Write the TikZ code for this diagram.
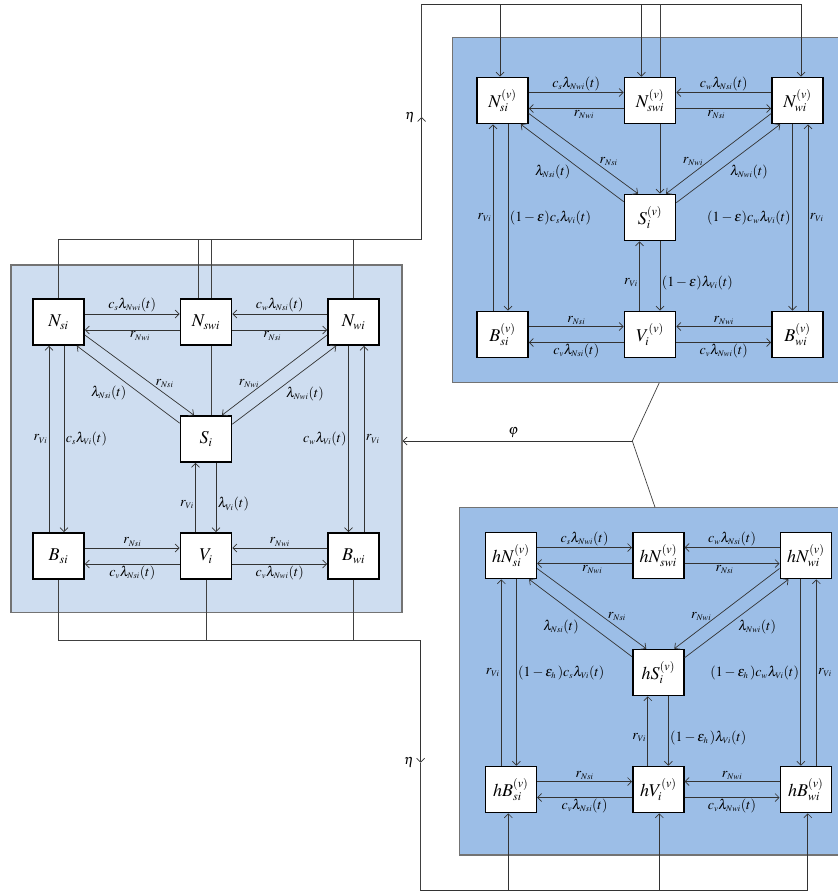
\documentclass[tikz,border=0pt]{standalone}
\usepackage{amsmath}
\usepackage{amssymb}
\usepackage{mathptmx}
\usetikzlibrary{arrows.meta}

\DeclareMathSizes{14}{14}{8.5}{6}
\DeclareMathSizes{18}{18}{12}{9}

\definecolor{paleblue}{RGB}{206,221,240}
\definecolor{midblue}{RGB}{156,190,231}

\tikzset{
  box/.style={draw=black, line width=1.6pt, fill=white, minimum width=51pt,
    minimum height=46pt, inner sep=0pt, font=\fontsize{18}{20}\selectfont},
  lbl/.style={font=\fontsize{14}{16}\selectfont, inner sep=1.5pt},
  flow/.style={->, line width=0.7pt, draw=black!80},
  link/.style={line width=0.7pt, draw=black!75},
  panel/.style={draw=black!55, line width=1.2pt},
}

% one compartment block: #1 name prefix, #2 leading h, #3 superscript, #4 factor
\newcommand{\drawpanel}[4]{%
  \node[box] (#1Nsi) at (0,0) {$#2N#3_{si}$};
  \node[box] (#1Nswi) at (147.5,0) {$#2N#3_{swi}$};
  \node[box] (#1Nwi) at (295,0) {$#2N#3_{wi}$};
  \node[box] (#1S) at (147.5,117) {$#2S#3_{i}$};
  \node[box] (#1Bsi) at (0,234) {$#2B#3_{si}$};
  \node[box] (#1V) at (147.5,234) {$#2V#3_{i}$};
  \node[box] (#1Bwi) at (295,234) {$#2B#3_{wi}$};

  \draw[flow] ([yshift=8pt]#1Nsi.east) -- ([yshift=8pt]#1Nswi.west) node[lbl,midway,above] {$c_s\lambda_{Nwi}(t)$};
  \draw[flow] ([yshift=-8pt]#1Nswi.west) -- ([yshift=-8pt]#1Nsi.east) node[lbl,pos=0.42,below] {$r_{Nwi}$};
  \draw[flow] ([yshift=8pt]#1Nwi.west) -- ([yshift=8pt]#1Nswi.east) node[lbl,midway,above] {$c_w\lambda_{Nsi}(t)$};
  \draw[flow] ([yshift=-8pt]#1Nswi.east) -- ([yshift=-8pt]#1Nwi.west) node[lbl,pos=0.42,below] {$r_{Nsi}$};

  \draw[flow] ([yshift=-13pt]#1Nsi.east) -- ([xshift=-12pt]#1S.north) node[lbl,pos=0.65,above right=-2pt] {$r_{Nsi}$};
  \draw[flow] ([yshift=-8pt]#1S.north west) -- ([xshift=-8pt]#1Nsi.south east) node[lbl,midway,below left] {$\lambda_{Nsi}(t)$};
  \draw[flow] ([yshift=-13pt]#1Nwi.west) -- ([xshift=16pt]#1S.north) node[lbl,pos=0.65,above left=-2pt] {$r_{Nwi}$};
  \draw[flow] ([yshift=-9pt]#1S.north east) -- ([xshift=9pt]#1Nwi.south west) node[lbl,midway,below right] {$\lambda_{Nwi}(t)$};

  \draw[flow] ([xshift=-9.5pt]#1Bsi.north) -- ([xshift=-9.5pt]#1Nsi.south) node[lbl,midway,left] {$r_{Vi}$};
  \draw[flow] ([xshift=5.5pt]#1Nsi.south) -- ([xshift=5.5pt]#1Bsi.north) node[lbl,midway,right] {$#4c_s\lambda_{Vi}(t)$};
  \draw[flow] ([xshift=-5pt]#1Nwi.south) -- ([xshift=-5pt]#1Bwi.north) node[lbl,midway,left] {$#4c_w\lambda_{Vi}(t)$};
  \draw[flow] ([xshift=10.5pt]#1Bwi.north) -- ([xshift=10.5pt]#1Nwi.south) node[lbl,midway,right] {$r_{Vi}$};
  \draw[flow] ([xshift=-10.5pt]#1V.north) -- ([xshift=-10.5pt]#1S.south) node[lbl,pos=0.4,left] {$r_{Vi}$};
  \draw[flow] ([xshift=10pt]#1S.south) -- ([xshift=10pt]#1V.north) node[lbl,pos=0.6,right] {$#4\lambda_{Vi}(t)$};

  \draw[flow] ([yshift=8pt]#1Bsi.east) -- ([yshift=8pt]#1V.west) node[lbl,midway,above] {$r_{Nsi}$};
  \draw[flow] ([yshift=-8pt]#1V.west) -- ([yshift=-8pt]#1Bsi.east) node[lbl,midway,below] {$c_v\lambda_{Nsi}(t)$};
  \draw[flow] ([yshift=8pt]#1Bwi.west) -- ([yshift=8pt]#1V.east) node[lbl,midway,above] {$r_{Nwi}$};
  \draw[flow] ([yshift=-8pt]#1V.east) -- ([yshift=-8pt]#1Bwi.west) node[lbl,midway,below] {$c_v\lambda_{Nwi}(t)$};
}

\begin{document}
\begin{tikzpicture}[x=1pt, y=-1pt, >={Straight Barb[length=4pt,width=8pt]}]
  \useasboundingbox (0,0) rectangle (838,892);

  % background blocks
  \draw[panel, fill=paleblue] (11,265) rectangle (402,612.7);
  \draw[panel, fill=midblue] (452.7,37.7) rectangle (845,382.7);
  \draw[panel, fill=midblue] (459.3,507.3) rectangle (845,855);

  \begin{scope}[shift={(58.5,322)}]
    \drawpanel{l}{}{}{}
  \end{scope}
  \begin{scope}[shift={(502.5,100.5)}]
    \drawpanel{v}{}{^{(v)}}{(1-\varepsilon)}
  \end{scope}
  \begin{scope}[shift={(510.8,555.5)}]
    \drawpanel{h}{h}{^{(v)}}{(1-\varepsilon_h\,)}
  \end{scope}

  \draw[link] ([xshift=5.5pt]lNswi.south) -- ([xshift=5.5pt]lS.north);
  \draw[flow] ([xshift=10pt]vNswi.south) -- ([xshift=10pt]vS.north);

  % eta, upper loop
  \coordinate (jl) at (421.7,239);
  \coordinate (etaup) at (421.7,117);
  \coordinate (jt) at (421.7,4.3);
  \draw[link] (lNsi.north) |- (jl);
  \draw[link] ([xshift=-7.5pt]lNswi.north) -- ([xshift=-7.5pt]lNswi.north |- jl);
  \draw[link] ([xshift=5pt]lNswi.north) -- ([xshift=5pt]lNswi.north |- jl);
  \draw[link] (lNwi.north) -- (lNwi.north |- jl);
  \draw[flow] (jl) -- (etaup) node[lbl,left=5pt] {$\eta$};
  \draw[link] (etaup) -- (jt);
  \draw[flow] (jt) -| ([xshift=-2.5pt]vNsi.north);
  \draw[flow] (jt) -| ([xshift=-8.7pt]vNswi.north);
  \draw[flow] (jt) -| ([xshift=3.5pt]vNwi.north);
  \draw[link] ([xshift=10.7pt]vNswi.north) -- ([xshift=10.7pt]vNswi.north |- jt);

  % eta, lower loop
  \coordinate (jb) at (420.7,640);
  \coordinate (etadown) at (420.7,762.7);
  \coordinate (jbb) at (420.7,890.7);
  \draw[link] (lBsi.south) |- (jb);
  \draw[link] (lV.south) -- (lV.south |- jb);
  \draw[link] (lBwi.south) -- (lBwi.south |- jb);
  \draw[flow] (jb) -- (etadown) node[lbl,left=5pt] {$\eta$};
  \draw[link] (etadown) -- (jbb);
  \draw[flow] (jbb) -| ([xshift=-2.5pt]hBsi.south);
  \draw[flow] (jbb) -| ([xshift=1pt]hV.south);
  \draw[flow] (jbb) -| ([xshift=2pt]hBwi.south);

  % phi
  \coordinate (phij) at (632.3,441);
  \coordinate (phil) at (402.6,441);
  \coordinate (tpb) at (659.3,382.7);
  \coordinate (bpt) at (655,507.3);
  \draw[link] (tpb) -- (phij) -- (bpt);
  \draw[flow] (phij) -- (phil) node[lbl,midway,above=2pt,xshift=-4pt] {$\varphi$};
\end{tikzpicture}
\end{document}
